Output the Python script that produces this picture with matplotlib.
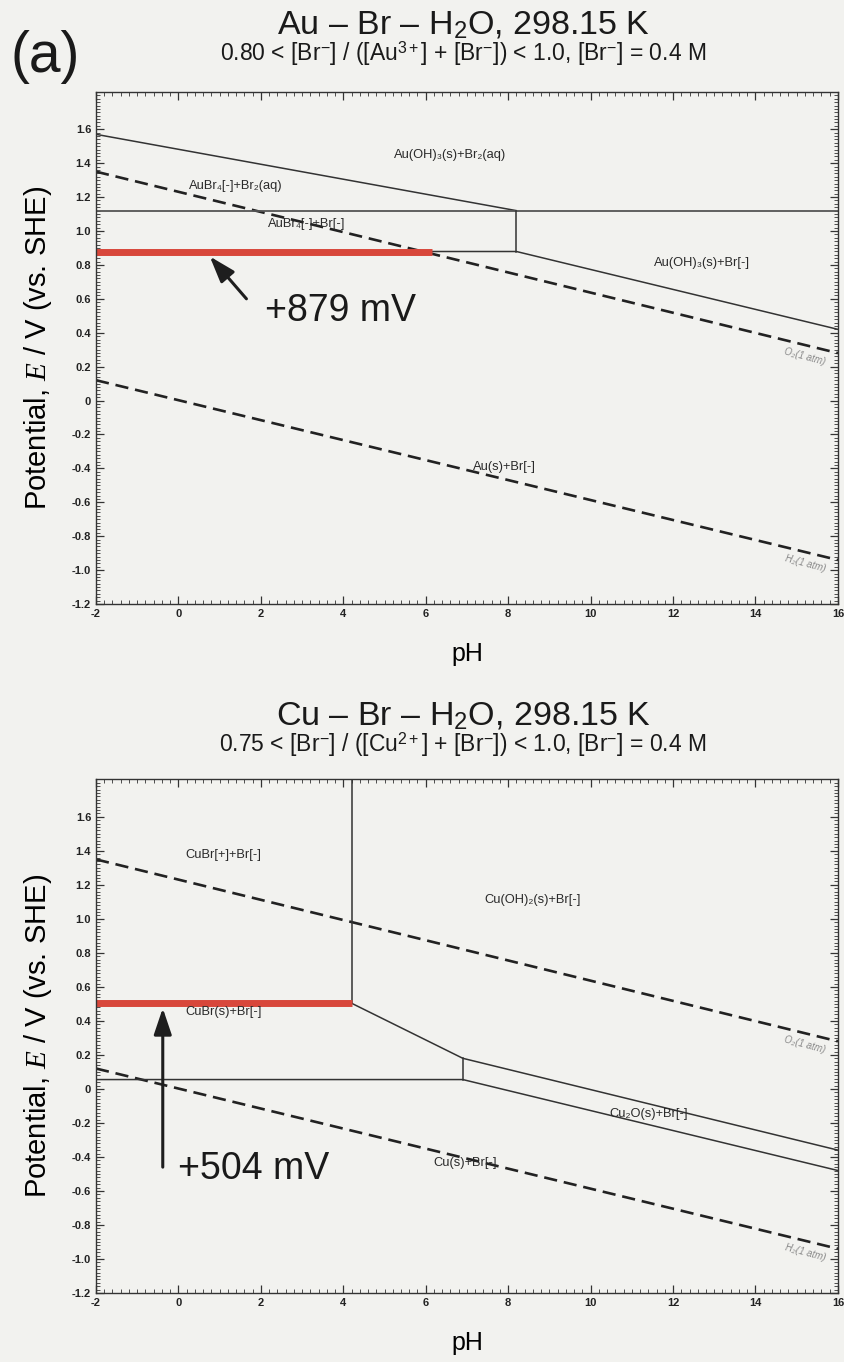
import matplotlib
matplotlib.use('Agg')
from matplotlib import pyplot as plt
from matplotlib.ticker import AutoMinorLocator, FuncFormatter

plt.rcParams['font.family'] = ['Liberation Sans', 'DejaVu Sans']
plt.rcParams['mathtext.fontset'] = 'custom'
plt.rcParams['mathtext.rm'] = 'Liberation Sans'
plt.rcParams['mathtext.it'] = 'Liberation Serif:italic'
plt.rcParams['mathtext.bf'] = 'Liberation Sans:bold'
plt.rcParams['axes.unicode_minus'] = False

PAPER = '#f2f2ef'
INK = '#333333'
RED = '#d8473b'

# water stability lines (both diagrams)
o2_ph = [-2, 16]
o2_e = [1.35, 0.28]
h2_ph = [-2, 16]
h2_e = [0.12, -0.94]

# Au-Br-H2O boundaries
au_top_ph = [-2, 8.2]
au_top_e = [1.57, 1.12]
au_flat_ph = [-2, 16]
au_flat_e = [1.12, 1.12]
au_vert_ph = [8.2, 8.2]
au_vert_e = [1.12, 0.879]
au_low_ph = [-2, 8.2, 16]
au_low_e = [0.879, 0.879, 0.42]
au_red_ph = [-2, 6.15]
au_red_e = [0.879, 0.879]

# Cu-Br-H2O boundaries
cu_vert_ph = [4.2, 4.2]
cu_vert_e = [0.504, 1.82]
cu_red_ph = [-2, 4.2]
cu_red_e = [0.504, 0.504]
cu_upper_ph = [4.2, 6.9, 16]
cu_upper_e = [0.504, 0.18, -0.36]
cu_step_ph = [6.9, 6.9]
cu_step_e = [0.18, 0.055]
cu_lower_ph = [-2, 6.9, 16]
cu_lower_e = [0.055, 0.055, -0.48]

au_labels = [
    ('Au(OH)₃(s)+Br₂(aq)', 6.6, 1.45),
    ('AuBr₄[-]+Br₂(aq)', 1.4, 1.265),
    ('AuBr₄[-]+Br[-]', 3.1, 1.04),
    ('Au(OH)₃(s)+Br[-]', 12.7, 0.81),
    ('Au(s)+Br[-]', 7.9, -0.39),
]
cu_labels = [
    ('CuBr[+]+Br[-]', 1.1, 1.375),
    ('Cu(OH)₂(s)+Br[-]', 8.6, 1.11),
    ('CuBr(s)+Br[-]', 1.1, 0.45),
    ('Cu₂O(s)+Br[-]', 11.4, -0.15),
    ('Cu(s)+Br[-]', 6.95, -0.435),
]

ph_ticks = list(range(-2, 17, 2))
e_ticks = [-1.2, -1.0, -0.8, -0.6, -0.4, -0.2, 0, 0.2, 0.4, 0.6, 0.8, 1.0, 1.2, 1.4, 1.6]

SANS = ['Liberation Sans', 'DejaVu Sans']
ARROW = dict(arrowstyle='-|>,head_length=0.8,head_width=0.27', color='#1e1e1e',
             lw=2.2, mutation_scale=20, shrinkA=0, shrinkB=0)


def e_fmt(v, pos):
    if abs(v) < 1e-9:
        return '0'
    return f'{v:.1f}'


def setup_axes(ax):
    ax.set_facecolor(PAPER)
    ax.set_xlim(-2, 16)
    ax.set_ylim(-1.2, 1.82)
    ax.set_xticks(ph_ticks)
    ax.set_yticks(e_ticks)
    ax.yaxis.set_major_formatter(FuncFormatter(e_fmt))
    ax.xaxis.set_minor_locator(AutoMinorLocator(10))
    ax.yaxis.set_minor_locator(AutoMinorLocator(10))
    ax.tick_params(which='both', direction='in', top=True, right=True, color=INK,
                   labelsize=8, labelcolor='#222222')
    ax.tick_params(which='major', length=6, width=0.9)
    ax.tick_params(which='minor', length=3, width=0.6)
    for lab in ax.get_xticklabels() + ax.get_yticklabels():
        lab.set_fontweight('bold')
    for sp in ax.spines.values():
        sp.set_color(INK)
        sp.set_linewidth(1.0)
    ax.set_xlabel('pH', fontsize=18, family=SANS)
    ax.xaxis.set_label_coords(0.5, -0.075)
    ax.set_ylabel('Potential, $E$ / V (vs. SHE)', fontsize=21, family=SANS)
    ax.yaxis.set_label_coords(-0.057, 0.5)


def water_lines(ax):
    ax.plot(o2_ph, o2_e, color='#222222', lw=1.9, ls=(0, (5, 2.6)))
    ax.plot(h2_ph, h2_e, color='#222222', lw=1.9, ls=(0, (5, 2.6)))
    ax.text(15.2, o2_e[1] - 0.02, 'O₂(1 atm)', fontsize=7, color='#8a8a8a',
            style='italic', rotation=-15, ha='center', va='center', family=SANS)
    ax.text(15.2, h2_e[1] - 0.02, 'H₂(1 atm)', fontsize=7, color='#8a8a8a',
            style='italic', rotation=-15, ha='center', va='center', family=SANS)


fig = plt.figure(figsize=(8.45, 13.62), dpi=100, facecolor=PAPER)

# --- Au - Br - H2O ---
ax1 = fig.add_axes([0.1136, 0.5565, 0.878, 0.3760])
setup_axes(ax1)
water_lines(ax1)
ax1.plot(au_top_ph, au_top_e, color=INK, lw=1.1)
ax1.plot(au_flat_ph, au_flat_e, color='#555555', lw=1.3)
ax1.plot(au_vert_ph, au_vert_e, color=INK, lw=1.1)
ax1.plot(au_low_ph, au_low_e, color=INK, lw=1.1)
ax1.plot(au_red_ph, au_red_e, color=RED, lw=5, solid_capstyle='butt')
for txt, x, y in au_labels:
    ax1.text(x, y, txt, fontsize=9.3, color='#2a2a2a', ha='center', va='center', family=SANS)
ax1.annotate('', xy=(0.76, 0.85), xytext=(1.65, 0.6), arrowprops=ARROW)
ax1.text(2.1, 0.53, '+879 mV', fontsize=27, color='#1a1a1a', ha='left', va='center',
         family=SANS)

# --- Cu - Br - H2O ---
ax2 = fig.add_axes([0.1136, 0.0507, 0.878, 0.3770])
setup_axes(ax2)
water_lines(ax2)
ax2.plot(cu_vert_ph, cu_vert_e, color=INK, lw=1.1)
ax2.plot(cu_upper_ph, cu_upper_e, color=INK, lw=1.1)
ax2.plot(cu_step_ph, cu_step_e, color=INK, lw=1.1)
ax2.plot(cu_lower_ph, cu_lower_e, color=INK, lw=1.1)
ax2.plot(cu_red_ph, cu_red_e, color=RED, lw=5, solid_capstyle='butt')
for txt, x, y in cu_labels:
    ax2.text(x, y, txt, fontsize=9.3, color='#2a2a2a', ha='center', va='center', family=SANS)
ax2.annotate('', xy=(-0.38, 0.475), xytext=(-0.38, -0.46), arrowprops=ARROW)
ax2.text(0.0, -0.47, '+504 mV', fontsize=27, color='#1a1a1a', ha='left', va='center',
         family=SANS)

# headings
fig.text(0.012, 0.958, '(a)', fontsize=41, color='#1a1a1a', ha='left', va='center')
fig.text(0.548, 0.981, 'Au – Br – H$_2$O, 298.15 K', fontsize=24.5, ha='center', va='center',
         color='#1a1a1a')
fig.text(0.548, 0.9605, '0.80 < [Br$^{-}$] / ([Au$^{3+}$] + [Br$^{-}$]) < 1.0, [Br$^{-}$] = 0.4 M',
         fontsize=16.5, ha='center', va='center', color='#1a1a1a')
fig.text(0.548, 0.474, 'Cu – Br – H$_2$O, 298.15 K', fontsize=24.5, ha='center', va='center',
         color='#1a1a1a')
fig.text(0.548, 0.4535, '0.75 < [Br$^{-}$] / ([Cu$^{2+}$] + [Br$^{-}$]) < 1.0, [Br$^{-}$] = 0.4 M',
         fontsize=16.5, ha='center', va='center', color='#1a1a1a')

fig.savefig('out.png', dpi=100, facecolor=PAPER)
